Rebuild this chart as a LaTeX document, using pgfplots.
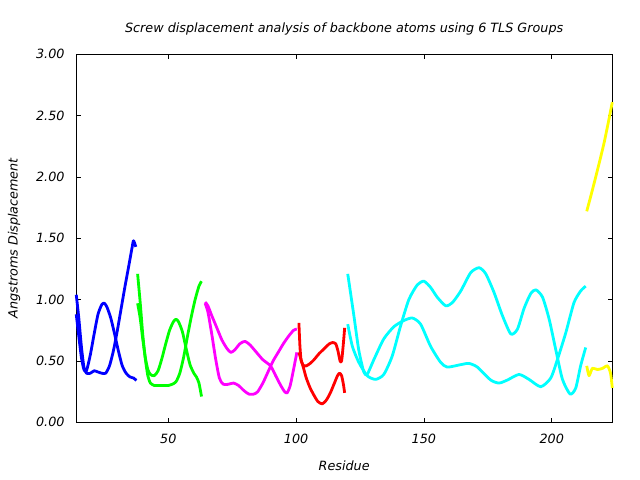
\documentclass[border=0pt]{standalone}
\usepackage{fontspec}
\setmainfont{DejaVu Sans}
\usepackage{pgfplots}
\pgfplotsset{compat=1.18}
\begin{document}
\begin{tikzpicture}[x=1bp,y=1bp]
\path[use as bounding box] (0,0) rectangle (640,480);
\begin{axis}[
  at={(76bp,57.7bp)}, anchor=south west,
  scale only axis, width=536.3bp, height=368bp,
  xmin=13.9, xmax=223.7, ymin=0, ymax=3,
  xtick={50,100,150,200}, ytick={0,0.5,1,1.5,2,2.5,3},
  tick align=inside, major tick length=4.5bp,
  axis line style={line width=0.8bp},
  tick style={line width=0.8bp, black},
  yticklabel style={xshift=-8bp, /pgf/number format/fixed, /pgf/number format/fixed zerofill, /pgf/number format/precision=2},
  xticklabel style={yshift=-8.5bp},
  /pgf/number format/assume math mode=true,
  tick label style={font=\fontsize{12.8}{15}\selectfont\itshape},
  label style={font=\fontsize{12.8}{15}\selectfont\itshape},
  title style={font=\fontsize{12.8}{15}\selectfont\itshape, at={(axis description cs:0.5,1.0516)}, anchor=center},
  title={Screw displacement analysis of backbone atoms using 6 TLS Groups},
  xlabel={Residue}, ylabel={Angstroms Displacement},
  xlabel style={at={(axis description cs:0.5,-0.1168)}, anchor=center},
  ylabel style={at={(axis description cs:-0.1156,0.5)}, anchor=center},
  every axis plot/.append style={line width=2.8bp, smooth, tension=0.4, mark=none, line join=round},
  clip=false,
]
% blue
\addplot[color={rgb,255:red,0;green,0;blue,255}] coordinates {(14,1.04)(15,0.85)(16,0.62)(17,0.45)(18,0.40)(19.5,0.40)(21,0.42)(22.5,0.41)(24,0.40)(25.5,0.40)(27,0.46)(28.5,0.58)(30,0.74)(31.5,0.92)(33,1.1)(34.5,1.27)(35.8,1.42)(36.4,1.48)(37.3,1.43)};
\addplot[color={rgb,255:red,0;green,0;blue,255}] coordinates {(14,0.88)(15,0.70)(16,0.53)(17,0.43)(18,0.42)(19.5,0.55)(21,0.72)(22.5,0.88)(24,0.96)(25,0.97)(26,0.94)(27.5,0.85)(29,0.72)(30.5,0.58)(32,0.46)(33.5,0.40)(35,0.37)(36.5,0.36)(37.5,0.34)};
% green
\addplot[color={rgb,255:red,0;green,255;blue,0}] coordinates {(38,1.21)(39,0.98)(40,0.72)(41,0.52)(42,0.38)(43,0.32)(44.5,0.30)(46,0.30)(48,0.30)(50,0.30)(51.5,0.31)(53,0.33)(54.5,0.40)(56,0.53)(57.5,0.70)(59,0.86)(60.5,1.0)(62,1.11)(63,1.15)};
\addplot[color={rgb,255:red,0;green,255;blue,0}] coordinates {(38,0.97)(39,0.85)(40,0.68)(41,0.53)(42,0.43)(43,0.39)(44.5,0.38)(46,0.42)(47.5,0.52)(49,0.64)(50.5,0.75)(52,0.82)(53,0.84)(54,0.82)(55.5,0.74)(57,0.60)(58.5,0.47)(60,0.40)(61,0.37)(62,0.32)(63,0.21)};
% magenta
\addplot[color={rgb,255:red,255;green,0;blue,255}] coordinates {(64.4,0.97)(65.5,0.90)(67,0.72)(68.5,0.52)(70,0.36)(71.5,0.31)(73.5,0.31)(75.5,0.32)(77.5,0.30)(79.5,0.26)(81.5,0.23)(83.5,0.23)(85,0.25)(87,0.32)(89,0.41)(91,0.50)(93,0.57)(95,0.64)(97,0.70)(99,0.75)(100.3,0.76)};
\addplot[color={rgb,255:red,255;green,0;blue,255}] coordinates {(64.4,0.98)(65.5,0.95)(67,0.87)(69,0.77)(71,0.67)(73,0.60)(74.5,0.57)(76,0.59)(78,0.64)(80,0.66)(82,0.63)(84.5,0.57)(87,0.51)(90,0.46)(92,0.38)(94,0.30)(95.5,0.25)(96.5,0.24)(97.7,0.30)(99,0.43)(100.3,0.57)};
% red
\addplot[color={rgb,255:red,255;green,0;blue,0}] coordinates {(101.1,0.81)(101.5,0.62)(102,0.50)(103,0.46)(104,0.46)(105.5,0.48)(107,0.51)(109,0.56)(111,0.60)(113,0.64)(114.3,0.65)(115.5,0.64)(116.4,0.58)(117.2,0.50)(117.8,0.50)(118.4,0.62)(119,0.77)};
\addplot[color={rgb,255:red,255;green,0;blue,0}] coordinates {(101.1,0.57)(101.8,0.52)(102.8,0.45)(104,0.36)(105.5,0.28)(107,0.22)(108.5,0.17)(110.2,0.15)(111.8,0.18)(113.4,0.24)(115,0.32)(116.2,0.38)(117,0.40)(117.8,0.38)(118.5,0.31)(119,0.24)};
% cyan
\addplot[color={rgb,255:red,0;green,255;blue,255}] coordinates {(120.2,1.21)(122.6,0.87)(124.5,0.59)(126.5,0.41)(127.8,0.39)(130.4,0.51)(134.3,0.68)(138.3,0.78)(142.2,0.83)(145.5,0.85)(148.7,0.80)(152.6,0.62)(156.5,0.49)(159.1,0.45)(164.4,0.47)(167.6,0.48)(170.9,0.45)(176.1,0.345)(179.4,0.32)(182.7,0.345)(187.2,0.39)(191.1,0.35)(195.7,0.29)(199.6,0.36)(202.2,0.51)(205.5,0.73)(208.7,0.975)(211.3,1.07)(213.3,1.11)};
\addplot[color={rgb,255:red,0;green,255;blue,255}] coordinates {(120.2,0.80)(122.0,0.62)(124.5,0.49)(127.8,0.38)(131.1,0.35)(134.3,0.39)(137.6,0.54)(140.8,0.78)(144.1,1.0)(147.4,1.12)(150,1.15)(152.6,1.10)(155.2,1.02)(158.5,0.95)(161.1,0.975)(164.4,1.07)(168.3,1.22)(171.6,1.26)(174.2,1.21)(177.4,1.06)(180.7,0.87)(184.0,0.72)(186.6,0.76)(189.2,0.93)(191.8,1.05)(193.8,1.08)(196.4,1.02)(199.0,0.84)(201.6,0.59)(204.2,0.35)(207.2,0.23)(209.4,0.28)(211.3,0.46)(213.3,0.61)};
% yellow
\addplot[color={rgb,255:red,255;green,255;blue,0}] coordinates {(213.7,1.72)(216.6,1.95)(220.5,2.28)(223.7,2.61)};
\addplot[color={rgb,255:red,255;green,255;blue,0}] coordinates {(213.7,0.46)(214.6,0.38)(215.9,0.44)(217.9,0.43)(219.9,0.44)(221.8,0.46)(223.0,0.40)(223.7,0.28)};
\end{axis}
\end{tikzpicture}
\end{document}
